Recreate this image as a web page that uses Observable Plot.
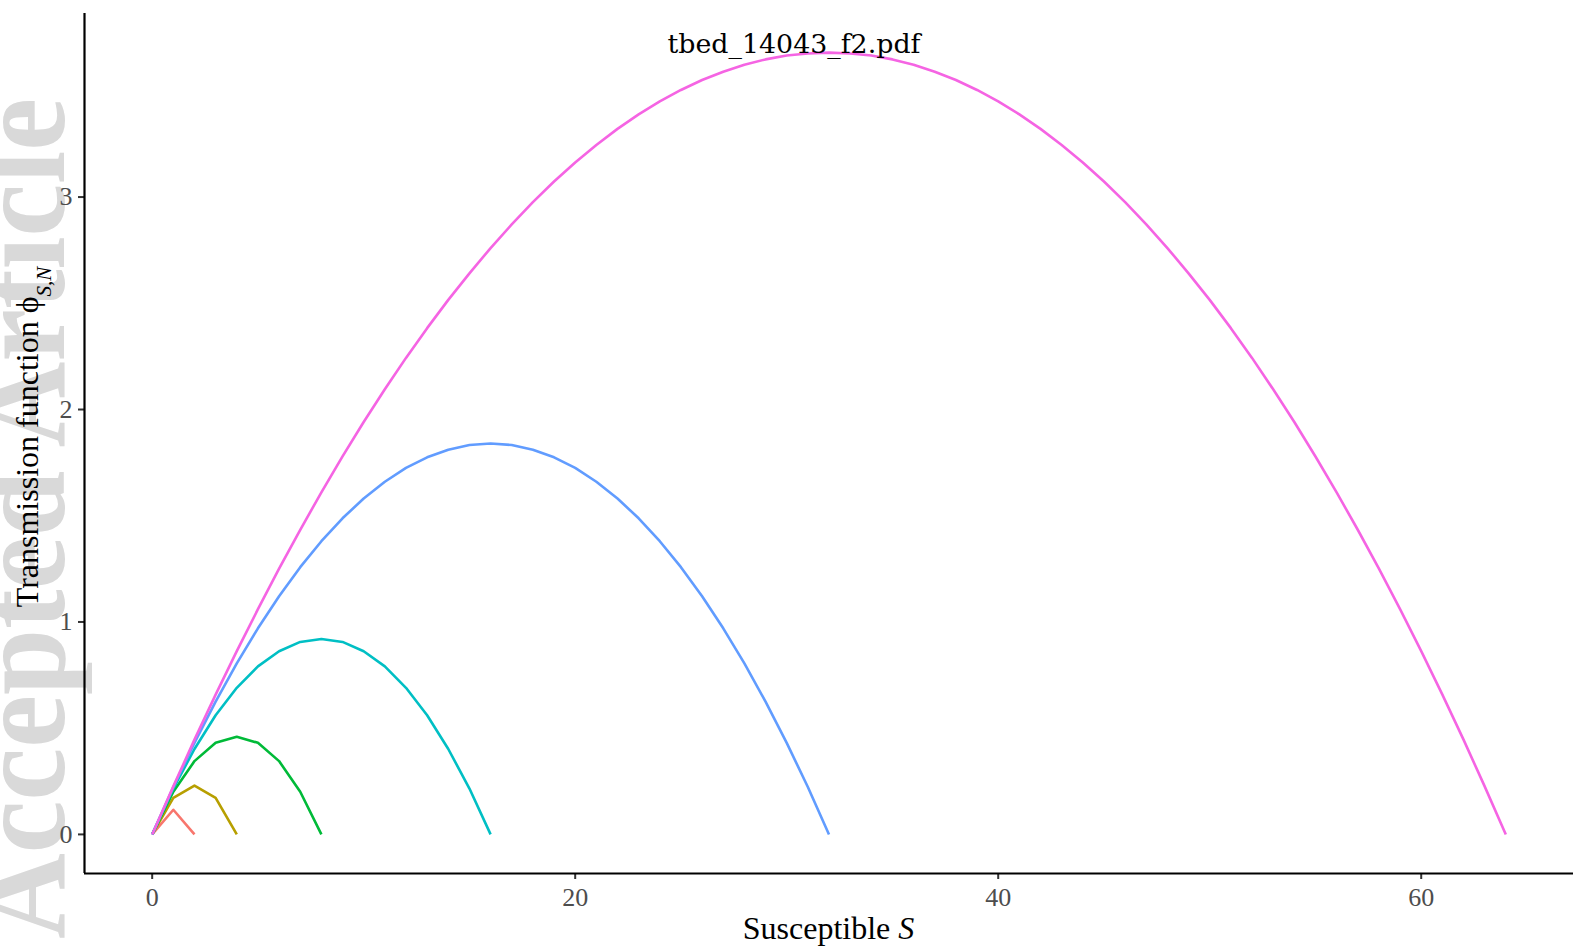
<!DOCTYPE html>
<html><head><meta charset="utf-8">
<script src="https://cdn.jsdelivr.net/npm/d3@7"></script>
<script src="https://cdn.jsdelivr.net/npm/@observablehq/plot@0.6"></script>
<style>
html,body{margin:0;padding:0;background:#fff;}
#chart{width:1587px;height:951px;overflow:hidden;position:relative;}
</style></head><body><div id="chart"></div>
<script>
// Population sizes N (one curve each) and their colours
const populationSizes = [2, 4, 8, 16, 32, 64];
const lineColors = ["#F8766D", "#B79F00", "#00BA38", "#00BFC4", "#619CFF", "#F564E3"];

// Transmission function phi_{S,N}, read at S = 0, 1, 2, ..., N
const phiN2 = [0, 0.116, 0];
const phiN4 = [0, 0.172, 0.230, 0.172, 0];
const phiN8 = [0, 0.201, 0.345, 0.431, 0.460, 0.431, 0.345, 0.201, 0];
const phiN16 = [0, 0.216, 0.402, 0.561, 0.690, 0.791, 0.862, 0.906, 0.920, 0.906, 0.862, 0.791, 0.690, 0.561, 0.402, 0.216, 0];
const phiN32 = [0, 0.223, 0.431, 0.625, 0.805, 0.970, 1.121, 1.258, 1.380, 1.488, 1.581, 1.660, 1.725, 1.775, 1.811, 1.833, 1.840,
  1.833, 1.811, 1.775, 1.725, 1.660, 1.581, 1.488, 1.380, 1.258, 1.121, 0.970, 0.805, 0.625, 0.431, 0.223, 0];
const phiN64 = [0, 0.226, 0.446, 0.658, 0.863, 1.060, 1.251, 1.434, 1.610, 1.779, 1.941, 2.095, 2.243, 2.383, 2.516, 2.641, 2.760,
  2.871, 2.976, 3.073, 3.163, 3.245, 3.321, 3.389, 3.450, 3.504, 3.551, 3.590, 3.623, 3.648, 3.666, 3.676, 3.680,
  3.676, 3.666, 3.648, 3.623, 3.590, 3.551, 3.504, 3.450, 3.389, 3.321, 3.245, 3.163, 3.073, 2.976, 2.871, 2.760,
  2.641, 2.516, 2.383, 2.243, 2.095, 1.941, 1.779, 1.610, 1.434, 1.251, 1.060, 0.863, 0.658, 0.446, 0.226, 0];

const xTicks = [0, 20, 40, 60];
const yTicks = [0, 1, 2, 3];

const seriesByN = [phiN2, phiN4, phiN8, phiN16, phiN32, phiN64];
const rows = seriesByN.flatMap((arr, i) =>
  arr.map((v, S) => ({N: String(populationSizes[i]), S, phi: v})));

const W = 1587, H = 951;
const mL = 84, mR = 14, mT = 13, mB = 78;
const xMin = -3.2, xMax = 67.2, yMin = -0.184, yMax = 3.864;

const chart = Plot.plot({
  width: W, height: H,
  marginLeft: mL, marginRight: mR, marginTop: mT, marginBottom: mB,
  style: {fontFamily: "'Liberation Serif', serif", fontSize: "26px", background: "transparent", overflow: "visible"},
  x: {domain: [xMin, xMax]},
  y: {domain: [yMin, yMax]},
  color: {type: "ordinal", domain: populationSizes.map(String), range: lineColors},
  marks: [
    Plot.line(rows, {x: "S", y: "phi", z: "N", stroke: "N", strokeWidth: 2.6, strokeLinecap: "butt", strokeLinejoin: "round"}),
    Plot.axisX({ticks: xTicks, tickFormat: d3.format("d"), tickSize: 6, tickPadding: 8, color: "#4d4d4d", stroke: "#333", strokeWidth: 2, label: null}),
    Plot.axisY({ticks: yTicks, tickFormat: d3.format("d"), tickSize: 6, tickPadding: 6, color: "#4d4d4d", stroke: "#333", strokeWidth: 2, label: null}),
    Plot.ruleX([xMin], {stroke: "#000", strokeWidth: 2.2}),
    Plot.ruleY([yMin], {stroke: "#000", strokeWidth: 2.2})
  ]
});

const svg = d3.select(chart);
// watermark behind everything
svg.insert("text", ":first-child")
  .attr("transform", "translate(64,939) rotate(-90)")
  .attr("text-anchor", "start")
  .attr("font-family", "'Liberation Serif', serif")
  .attr("font-weight", "bold")
  .attr("font-size", 130)
  .attr("textLength", 841)
  .attr("lengthAdjust", "spacingAndGlyphs")
  .attr("fill", "#d9d9d9")
  .text("Accepted Article");

// top label
svg.append("text")
  .attr("x", 794).attr("y", 53)
  .attr("text-anchor", "middle")
  .attr("font-family", "'DejaVu Serif', serif")
  .attr("font-size", 26)
  .attr("textLength", 253)
  .attr("lengthAdjust", "spacingAndGlyphs")
  .attr("fill", "#000")
  .text("tbed_14043_f2.pdf");

// x axis title
const xt = svg.append("text")
  .attr("x", (mL + W - mR) / 2).attr("y", 939)
  .attr("text-anchor", "middle")
  .attr("font-family", "'Liberation Serif', serif")
  .attr("font-size", 32)
  .attr("fill", "#000");
xt.append("tspan").text("Susceptible ");
xt.append("tspan").attr("font-style", "italic").text("S");

// y axis title
const yt = svg.append("text")
  .attr("transform", "translate(38,437) rotate(-90)")
  .attr("text-anchor", "middle")
  .attr("font-family", "'Liberation Serif', serif")
  .attr("font-size", 32)
  .attr("fill", "#000");
yt.append("tspan").text("Transmission function \u03D5");
yt.append("tspan").attr("font-style", "italic").attr("font-size", 21).attr("dy", 13).text("S,N");

document.getElementById("chart").appendChild(chart);
</script>
</body></html>
